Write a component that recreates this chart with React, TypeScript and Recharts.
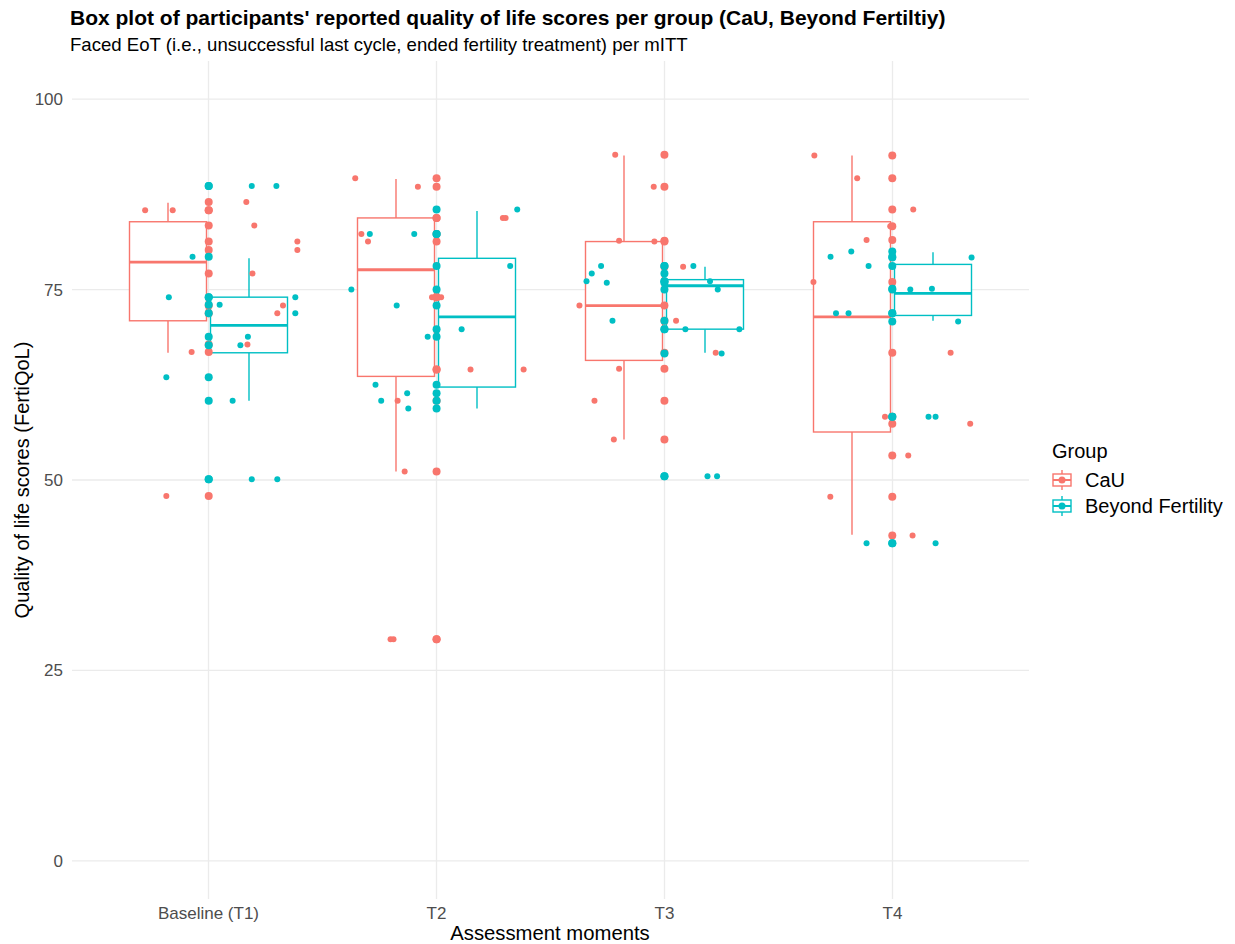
import React from "react";
import { ComposedChart, Bar, Scatter, XAxis, YAxis, CartesianGrid, Legend } from "recharts";

const moments = ["Baseline (T1)", "T2", "T3", "T4"];

// box stats per moment: whisker low, Q1, median, Q3, whisker high
const cauLow = [66.7, 51.1, 55.3, 42.8];
const cauQ1 = [70.9, 63.6, 65.7, 56.3];
const cauMedian = [78.6, 77.6, 72.9, 71.4];
const cauQ3 = [83.9, 84.4, 81.3, 83.9];
const cauHigh = [86.4, 89.5, 92.6, 92.6];

const befLow = [60.4, 59.4, 66.7, 70.9];
const befQ1 = [66.7, 62.2, 69.8, 71.6];
const befMedian = [70.3, 71.4, 75.5, 74.5];
const befQ3 = [74.0, 79.1, 76.3, 78.3];
const befHigh = [79.1, 85.3, 78.0, 79.9];

// individual FertiQoL scores per moment
const cauScores = [
  [85.4, 85.4, 86.5, 83.4, 81.3, 80.2, 77.1, 72.9, 71.9, 67.8, 66.8, 47.9],
  [89.6, 88.5, 84.4, 84.4, 82.3, 81.3, 74.0, 74.0, 64.5, 64.5, 60.4, 51.1, 29.1, 29.1],
  [92.7, 88.5, 81.4, 81.3, 78.0, 72.9, 70.9, 66.7, 64.6, 60.4, 55.3],
  [92.6, 89.6, 85.5, 83.3, 81.5, 76.0, 66.7, 58.3, 57.4, 53.2, 47.8, 42.7],
];
const befScores = [
  [88.6, 88.6, 79.3, 74.0, 73.0, 74.0, 71.9, 68.8, 67.7, 63.5, 60.4, 50.1, 50.1],
  [85.5, 82.3, 82.3, 78.1, 75.0, 72.9, 69.8, 68.8, 62.5, 61.4, 60.4, 59.4],
  [78.1, 78.1, 77.1, 76.1, 75.9, 76.1, 75.0, 70.9, 69.8, 69.8, 66.6, 50.5, 50.5],
  [80.0, 79.3, 78.1, 79.2, 75.0, 75.1, 71.9, 71.9, 70.8, 58.3, 58.3, 41.7, 41.7],
];

// horizontal jitter (category units) of each score
const cauJitter = [
  [-0.279, -0.158, 0.165, 0.2, 0.389, 0.389, 0.192, 0.326, 0.301, 0.17, -0.075, -0.186],
  [-0.357, -0.082, 0.291, 0.303, -0.33, -0.301, -0.02, 0.02, 0.149, 0.382, -0.171, -0.14, -0.202, -0.189],
  [-0.216, -0.047, -0.199, -0.044, 0.082, -0.373, 0.051, 0.225, -0.199, -0.307, -0.222],
  [-0.342, -0.154, 0.092, -0.009, -0.113, -0.346, 0.256, -0.032, 0.342, 0.07, -0.272, 0.089],
];
const befJitter = [
  [0.189, 0.297, -0.071, -0.175, 0.048, 0.38, 0.38, 0.172, 0.139, -0.186, 0.105, 0.189, 0.301],
  [0.354, -0.293, -0.098, 0.323, -0.374, -0.175, 0.11, -0.039, -0.268, -0.129, -0.243, -0.124],
  [0.127, -0.278, -0.319, -0.342, -0.253, 0.2, 0.234, -0.228, 0.092, 0.329, 0.251, 0.189, 0.231],
  [-0.18, -0.271, -0.104, 0.348, 0.079, 0.174, -0.247, -0.192, 0.289, 0.159, 0.19, -0.113, 0.19],
];

const RED = "#F8766D";
const TEAL = "#00BFC4";
const FONT = "'Liberation Sans', Arial, Helvetica, sans-serif";

const boxData = moments.map((m, i) => ({
  moment: m,
  cauRange: [cauLow[i], cauHigh[i]],
  befRange: [befLow[i], befHigh[i]],
  cau: { low: cauLow[i], q1: cauQ1[i], med: cauMedian[i], q3: cauQ3[i], high: cauHigh[i] },
  bef: { low: befLow[i], q1: befQ1[i], med: befMedian[i], q3: befQ3[i], high: befHigh[i] },
}));

const centerPoints = (scores: number[][]) =>
  scores.flatMap((arr, i) => arr.map((y) => ({ x: i + 1, y })));
const jitterPoints = (scores: number[][], jit: number[][]) =>
  scores.flatMap((arr, i) => arr.map((y, j) => ({ x: i + 1 + jit[i][j], y })));

// box + whiskers drawn inside the range bar [low, high]
const BoxShape = (props: any) => {
  const { x, y, width, height, payload, group, color } = props;
  const s = payload[group];
  const top = Math.min(y, y + height);
  const h = Math.abs(height);
  const py = (v: number) => top + ((s.high - v) / (s.high - s.low)) * h;
  const cx = x + width / 2;
  return (
    <g>
      <line x1={cx} x2={cx} y1={py(s.high)} y2={py(s.q3)} stroke={color} strokeWidth={1.4} />
      <line x1={cx} x2={cx} y1={py(s.q1)} y2={py(s.low)} stroke={color} strokeWidth={1.4} />
      <rect x={x} y={py(s.q3)} width={width} height={py(s.q1) - py(s.q3)} fill="#fff" stroke={color} strokeWidth={1.4} />
      <line x1={x} x2={x + width} y1={py(s.med)} y2={py(s.med)} stroke={color} strokeWidth={2.8} />
    </g>
  );
};

const dot = (r: number, fill: string) => (p: any) => <circle cx={p.cx} cy={p.cy} r={r} fill={fill} />;

const KeyGlyph: React.FC<{ color: string }> = ({ color }) => (
  <svg width={20} height={22} style={{ display: "block" }}>
    <line x1={10} x2={10} y1={1} y2={21} stroke={color} strokeWidth={1.4} />
    <rect x={1} y={5} width={18} height={12} fill="#fff" stroke={color} strokeWidth={1.4} />
    <line x1={1} x2={19} y1={11} y2={11} stroke={color} strokeWidth={2} />
    <circle cx={10} cy={11} r={3.5} fill={color} />
  </svg>
);

const GroupLegend = () => (
  <div style={{ fontFamily: FONT, color: "#000" }}>
    <div style={{ fontSize: 20, lineHeight: "24px", marginBottom: 4 }}>Group</div>
    {[
      { label: "CaU", color: RED },
      { label: "Beyond Fertility", color: TEAL },
    ].map((k) => (
      <div key={k.label} style={{ display: "flex", alignItems: "center", height: 26 }}>
        <KeyGlyph color={k.color} />
        <span style={{ fontSize: 20, marginLeft: 13 }}>{k.label}</span>
      </div>
    ))}
  </div>
);

const tickStyle = { fill: "#4D4D4D", fontSize: 17, fontFamily: FONT };

export default function App() {
  return (
    <div style={{ position: "absolute", left: 0, top: 0, width: 1235, height: 944, background: "#fff", fontFamily: FONT }}>
      <div style={{ position: "absolute", left: 70, top: 6, fontSize: 21, lineHeight: "24px", fontWeight: "bold", whiteSpace: "nowrap" }}>
        Box plot of participants' reported quality of life scores per group (CaU, Beyond Fertiltiy)
      </div>
      <div style={{ position: "absolute", left: 70, top: 34, fontSize: 18.6, lineHeight: "22px", whiteSpace: "nowrap" }}>
        Faced EoT (i.e., unsuccessful last cycle, ended fertility treatment) per mITT
      </div>
      <div
        style={{
          position: "absolute",
          left: 22 - 200,
          top: 480 - 12,
          width: 400,
          height: 24,
          lineHeight: "24px",
          textAlign: "center",
          fontSize: 20,
          whiteSpace: "nowrap",
          transform: "rotate(-90deg)",
        }}
      >
        Quality of life scores (FertiQoL)
      </div>
      <div
        style={{
          position: "absolute",
          left: 550 - 200,
          top: 933 - 12,
          width: 400,
          height: 24,
          lineHeight: "24px",
          textAlign: "center",
          fontSize: 20.3,
          whiteSpace: "nowrap",
        }}
      >
        Assessment moments
      </div>
      <ComposedChart width={1235} height={944} data={boxData} margin={{ top: 61, right: 206, bottom: 15, left: 32 }}>
        <CartesianGrid xAxisId="cat" stroke="#EBEBEB" strokeWidth={1.3} syncWithTicks />
        <XAxis
          xAxisId="cat"
          dataKey="moment"
          type="category"
          padding={{ left: 22.5, right: 22.5 }}
          interval={0}
          tickLine={false}
          axisLine={false}
          tick={tickStyle}
          height={30}
        />
        <XAxis xAxisId="num" type="number" dataKey="x" domain={[0.4, 4.6]} hide allowDataOverflow />
        <YAxis
          type="number"
          domain={[-5, 105]}
          ticks={[0, 25, 50, 75, 100]}
          width={40}
          tickLine={false}
          axisLine={false}
          tickMargin={3}
          tick={tickStyle}
        />
        <Bar
          xAxisId="cat"
          dataKey="cauRange"
          barSize={77}
          isAnimationActive={false}
          shape={(p: any) => <BoxShape {...p} group="cau" color={RED} />}
        />
        <Bar
          xAxisId="cat"
          dataKey="befRange"
          barSize={77}
          isAnimationActive={false}
          shape={(p: any) => <BoxShape {...p} group="bef" color={TEAL} />}
        />
        <Scatter xAxisId="num" data={centerPoints(cauScores)} dataKey="y" shape={dot(4, RED)} isAnimationActive={false} />
        <Scatter xAxisId="num" data={centerPoints(befScores)} dataKey="y" shape={dot(4, TEAL)} isAnimationActive={false} />
        <Scatter xAxisId="num" data={jitterPoints(cauScores, cauJitter)} dataKey="y" shape={dot(3, RED)} isAnimationActive={false} />
        <Scatter xAxisId="num" data={jitterPoints(befScores, befJitter)} dataKey="y" shape={dot(3, TEAL)} isAnimationActive={false} />
        <Legend
          layout="horizontal"
          verticalAlign="middle"
          align="center"
          wrapperStyle={{ left: 1052, top: 439, width: 183, height: 90 }}
          content={() => <GroupLegend />}
        />
      </ComposedChart>
    </div>
  );
}
